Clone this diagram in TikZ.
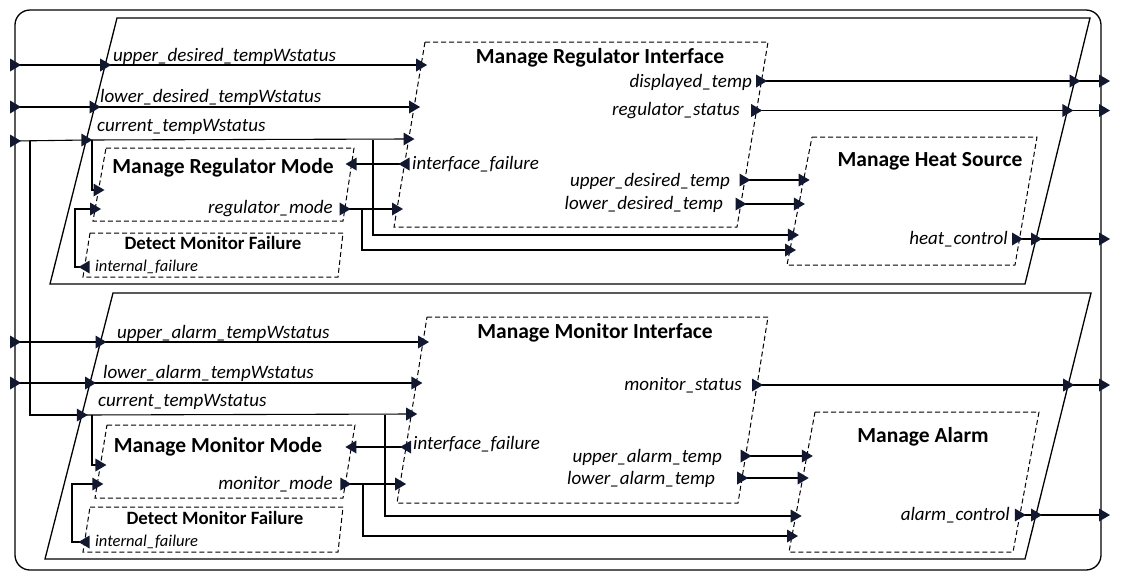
\documentclass[tikz,border=0pt]{standalone}
\usepackage{fontspec}
\setmainfont{Carlito}
\definecolor{arrowc}{RGB}{18,24,48}
\tikzset{
  pr/.pic={\fill[arrowc] (-5,-6.5) -- (6,0) -- (-5,6.5) -- cycle;},
  pl/.pic={\fill[arrowc] (5,-6.5) -- (-6,0) -- (5,6.5) -- cycle;},
  wire/.style={line width=1.1pt, black},
  frame/.style={line width=1.3pt, black},
  func/.style={line width=1pt, black, dash pattern=on 5pt off 3pt},
  lab/.style={inner sep=0pt, font=\fontsize{19}{21}\selectfont\itshape},
  slab/.style={inner sep=0pt, font=\fontsize{16.5}{18}\selectfont\itshape},
  ttl/.style={inner sep=0pt, font=\fontsize{21.5}{23}\selectfont\bfseries},
  sttl/.style={inner sep=0pt, font=\fontsize{18.8}{20}\selectfont\bfseries},
}
\begin{document}
\begin{tikzpicture}[x=1pt,y=-1pt]
\useasboundingbox (0,0) rectangle (1121,582);
% outer frame
\draw[frame,rounded corners=15pt] (15,10) rectangle (1101,570);
% big parallelograms
\draw[frame] (117,18) -- (1090,18) -- (1025,284) -- (50,284) -- cycle;
\draw[frame] (113,293) -- (1091,293) -- (1025,559) -- (45,559) -- cycle;
% function boxes
\draw[func] (425,42) -- (768,42) -- (737,227) -- (394,227) -- cycle;
\draw[func] (106,148) -- (354,148) -- (343,221) -- (93,221) -- cycle;
\draw[func] (90,233) -- (343,233) -- (338,277) -- (83,277) -- cycle;
\draw[func] (812,137) -- (1037,137) -- (1015,265) -- (787,265) -- cycle;
\draw[func] (427,317) -- (768,317) -- (738,503) -- (397,503) -- cycle;
\draw[func] (107,425) -- (355,425) -- (343,498) -- (95,498) -- cycle;
\draw[func] (90,507) -- (343,507) -- (338,552) -- (83,552) -- cycle;
\draw[func] (815,412) -- (1039,412) -- (1013,552) -- (789,552) -- cycle;

% titles
\node[ttl] (tMRI) at (600,58) {Manage Regulator Interface};
\node[ttl] (tMRM) at (223,168) {Manage Regulator Mode};
\node[sttl] (tDMF) at (213,243) {Detect Monitor Failure};
\node[ttl] (tMHS) at (930,161) {Manage Heat Source};
\node[ttl] (tMMI) at (595,333) {Manage Monitor Interface};
\node[ttl] (tMMM) at (218,447) {Manage Monitor Mode};
\node[sttl] (tDMF2) at (215,518) {Detect Monitor Failure};
\node[ttl] (tMA) at (923,437) {Manage Alarm};

% labels top
\node[lab,anchor=west] (l1) at (113,56) {upper\_desired\_tempWstatus};
\node[lab,anchor=west] (l2) at (100,97) {lower\_desired\_tempWstatus};
\node[lab,anchor=west] (l3) at (97,127) {current\_tempWstatus};
\node[lab,anchor=east] (l4) at (752,82) {displayed\_temp};
\node[lab,anchor=east] (l5) at (740,111) {regulator\_status};
\node[lab,anchor=west] (l6) at (412,164) {interface\_failure};
\node[lab,anchor=east] (l7) at (730,181) {upper\_desired\_temp};
\node[lab,anchor=east] (l8) at (723,204) {lower\_desired\_temp};
\node[lab,anchor=east] (l9) at (333,209) {regulator\_mode};
\node[slab,anchor=west] (l10) at (95,267) {internal\_failure};
\node[lab,anchor=east] (l11) at (1008,239) {heat\_control};
% labels bottom
\node[lab,anchor=west] (m1) at (117,333) {upper\_alarm\_tempWstatus};
\node[lab,anchor=west] (m2) at (103,373) {lower\_alarm\_tempWstatus};
\node[lab,anchor=west] (m3) at (98,402) {current\_tempWstatus};
\node[lab,anchor=east] (m4) at (742,385) {monitor\_status};
\node[lab,anchor=west] (m5) at (413,444) {interface\_failure};
\node[lab,anchor=east] (m6) at (722,457) {upper\_alarm\_temp};
\node[lab,anchor=east] (m7) at (715,479) {lower\_alarm\_temp};
\node[lab,anchor=east] (m8) at (333,484) {monitor\_mode};
\node[slab,anchor=west] (m9) at (95,542) {internal\_failure};
\node[lab,anchor=east] (m10) at (1010,515) {alarm\_control};

% ===== top ports =====
\coordinate (oL1) at (15,65);   \coordinate (tL1) at (105.2,65);  \coordinate (mriI1) at (421.1,65);
\coordinate (oL2) at (15,107);  \coordinate (tL2) at (94.6,107);  \coordinate (mriI2) at (414.1,107);
\coordinate (oL3) at (15,141);  \coordinate (tL3) at (86.3,140);  \coordinate (mriI3) at (408.5,139);
\coordinate (mriF) at (404.5,164); \coordinate (mrmF) at (351.6,164);
\coordinate (mrmO) at (344.6,209); \coordinate (mriI5) at (397,209);
\coordinate (mrmI1) at (98.5,190); \coordinate (mrmI2) at (95,209);
\coordinate (dmfO) at (84.6,267);
\coordinate (mriO1) at (761.1,81);  \coordinate (tR1) at (1074.6,81);  \coordinate (oR1) at (1104,81);
\coordinate (mriO2) at (756.2,110.5); \coordinate (tR2) at (1067.4,110.5); \coordinate (oR2) at (1104,110.5);
\coordinate (mriO3) at (744.5,180); \coordinate (mhsI1) at (803.6,180);
\coordinate (mriO4) at (740.5,204); \coordinate (mhsI2) at (798.9,204);
\coordinate (mhsI3) at (792.9,235); \coordinate (mhsI4) at (790,250);
\coordinate (mhsO) at (1017,239); \coordinate (tR3) at (1036,239); \coordinate (oR3) at (1104,239);
\coordinate (j0) at (30,140.5); \coordinate (j1) at (92,140); \coordinate (j2) at (373,139.5);
\coordinate (j3) at (362,209); \coordinate (k1) at (75,240);

% ===== bottom ports =====
\coordinate (oB1) at (15,342);  \coordinate (bL1) at (100.5,342); \coordinate (mmiI1) at (423,342);
\coordinate (oB2) at (15,383);  \coordinate (bL2) at (90,383);    \coordinate (mmiI2) at (416.4,383);
\coordinate (bL3) at (81.8,415); \coordinate (mmiI3) at (411.2,414);
\coordinate (mmiF) at (406.1,447); \coordinate (mmmF) at (351.4,447);
\coordinate (mmmO) at (345.3,484); \coordinate (mmiI5) at (400.1,484);
\coordinate (mmmI1) at (100.4,465); \coordinate (mmmI2) at (97.3,484);
\coordinate (dmf2O) at (84.5,542);
\coordinate (mmiO1) at (757,385); \coordinate (bR1) at (1068.2,385); \coordinate (oR4) at (1104,385);
\coordinate (mmiO2) at (745.6,456); \coordinate (maI1) at (806.8,456);
\coordinate (mmiO3) at (742.1,478); \coordinate (maI2) at (802.7,478);
\coordinate (maI3) at (795.7,516); \coordinate (maI4) at (792,536);
\coordinate (maO) at (1019.8,515); \coordinate (bR2) at (1036,515); \coordinate (oR5) at (1104,515);
\coordinate (i1) at (92,415); \coordinate (i2) at (385,414.5);
\coordinate (i3) at (363,484); \coordinate (k2) at (72,515);

% ===== wires top =====
\draw[wire] (oL1) -- (tL1) -- (mriI1);
\draw[wire] (oL2) -- (tL2) -- (mriI2);
\draw[wire] (oL3) -- (tL3) -- (mriI3);
\draw[wire] (j0) |- (bL3);
\draw[wire] (j1) |- (mrmI1);
\draw[wire] (j2) |- (mhsI3);
\draw[wire] (mriF) -- (mrmF);
\draw[wire] (mrmO) -- (mriI5);
\draw[wire] (j3) |- (mhsI4);
\draw[wire] (dmfO) -| (k1) |- (mrmI2);
\draw[wire] (mriO1) -- (tR1) -- (oR1);
\draw[wire] (mriO2) -- (tR2) -- (oR2);
\draw[wire] (mriO3) -- (mhsI1);
\draw[wire] (mriO4) -- (mhsI2);
\draw[wire] (mhsO) -- (tR3) -- (oR3);
% ===== wires bottom =====
\draw[wire] (oB1) -- (bL1) -- (mmiI1);
\draw[wire] (oB2) -- (bL2) -- (mmiI2);
\draw[wire] (bL3) -- (mmiI3);
\draw[wire] (i1) |- (mmmI1);
\draw[wire] (i2) |- (maI3);
\draw[wire] (mmiF) -- (mmmF);
\draw[wire] (mmmO) -- (mmiI5);
\draw[wire] (i3) |- (maI4);
\draw[wire] (dmf2O) -| (k2) |- (mmmI2);
\draw[wire] (mmiO1) -- (bR1) -- (oR4);
\draw[wire] (mmiO2) -- (maI1);
\draw[wire] (mmiO3) -- (maI2);
\draw[wire] (maO) -- (bR2) -- (oR5);

% ===== port markers =====
\foreach \p in {oL1,tL1,mriI1,oL2,tL2,mriI2,oL3,tL3,mriI3,mriI5,mrmI1,mrmI2,mrmO,
  mriO1,tR1,oR1,mriO2,tR2,oR2,mriO3,mhsI1,mriO4,mhsI2,mhsI3,mhsI4,mhsO,tR3,oR3,
  oB1,bL1,mmiI1,oB2,bL2,mmiI2,bL3,mmiI3,mmiI5,mmmI1,mmmI2,mmmO,
  mmiO1,bR1,oR4,mmiO2,maI1,mmiO3,maI2,maI3,maI4,maO,bR2,oR5}
  \pic at (\p) {pr};
\foreach \p in {mriF,mrmF,dmfO,mmiF,mmmF,dmf2O}
  \pic at (\p) {pl};
\end{tikzpicture}
\end{document}
